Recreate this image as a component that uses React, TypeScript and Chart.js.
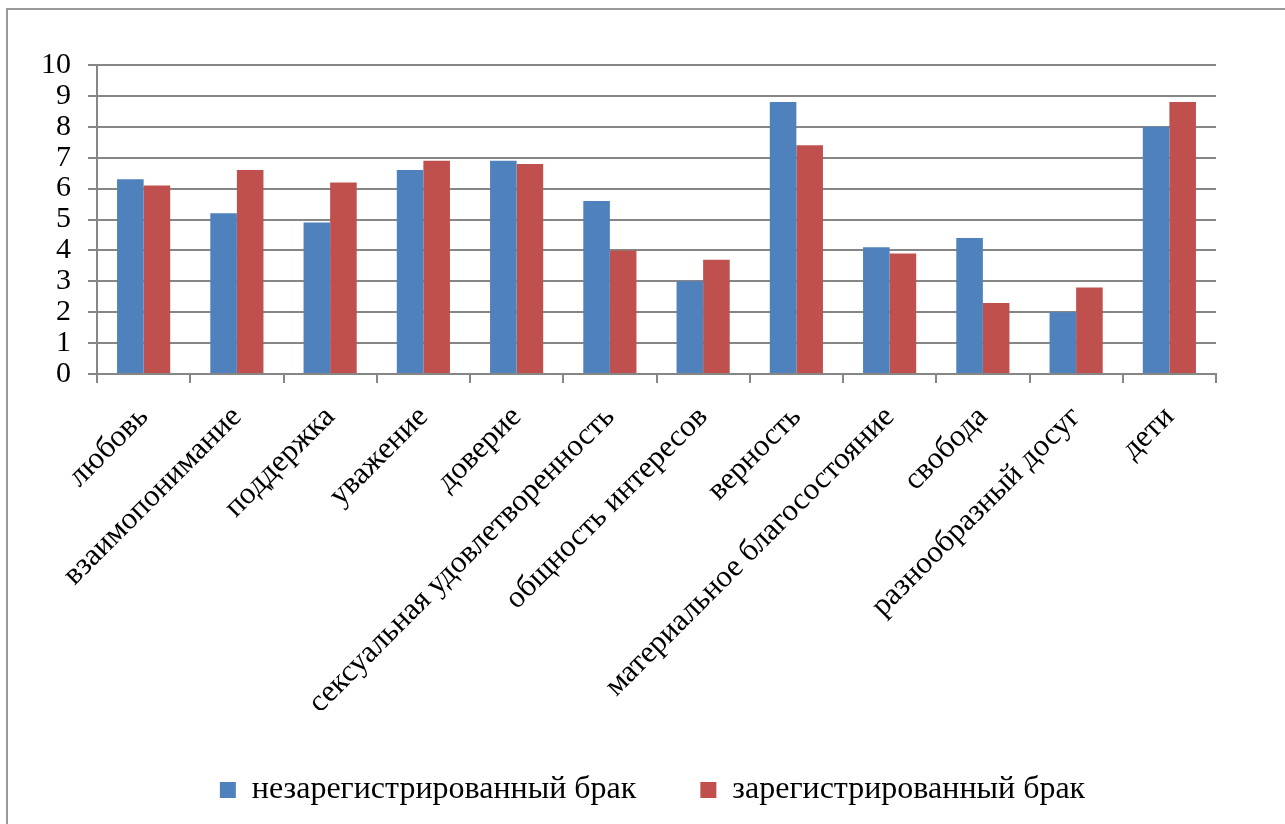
import React, { useEffect, useRef } from "react";
import { Chart, registerables } from "chart.js";

Chart.register(...registerables);

const categories = [
  "любовь",
  "взаимопонимание",
  "поддержка",
  "уважение",
  "доверие",
  "сексуальная удовлетворенность",
  "общность интересов",
  "верность",
  "материальное благосостояние",
  "свобода",
  "разнообразный досуг",
  "дети",
];
const unregistered = [6.3, 5.2, 4.9, 6.6, 6.9, 5.6, 3.0, 8.8, 4.1, 4.4, 2.0, 8.0];
const registered = [6.1, 6.6, 6.2, 6.9, 6.8, 4.0, 3.7, 7.4, 3.9, 2.3, 2.8, 8.8];
const seriesNames = ["незарегистрированный брак", "зарегистрированный брак"];

const FONT = "'Liberation Serif', 'Times New Roman', serif";
const GRID = "#868686";

export default function App() {
  const ref = useRef<HTMLCanvasElement | null>(null);
  useEffect(() => {
    if (!ref.current) return;
    const chart = new Chart(ref.current, {
      type: "bar",
      data: {
        labels: categories,
        datasets: [
          { label: seriesNames[0], data: unregistered, backgroundColor: "#4F81BD" },
          { label: seriesNames[1], data: registered, backgroundColor: "#C0504D" },
        ],
      },
      options: {
        responsive: false,
        animation: false,
        devicePixelRatio: 1,
        layout: { padding: { top: 65, left: 20, right: 0, bottom: 8 } },
        datasets: { bar: { categoryPercentage: 0.57, barPercentage: 1 } },
        plugins: {
          tooltip: { enabled: false },
          legend: {
            position: "bottom",
            labels: {
              boxWidth: 16,
              boxHeight: 16,
              padding: 64,
              color: "#000",
              font: { family: FONT, size: 32 },
            },
          },
        },
        scales: {
          x: {
            afterFit: (s: any) => {
              s.height = 336;
            },
            grid: {
              offset: true,
              drawOnChartArea: false,
              drawTicks: true,
              tickLength: 9,
              color: GRID,
              lineWidth: 2,
            },
            border: { color: GRID, width: 2 },
            ticks: {
              color: "#000",
              font: { family: FONT, size: 31 },
              maxRotation: 45,
              minRotation: 45,
              autoSkip: false,
              padding: 16,
            },
          },
          y: {
            min: 0,
            max: 10,
            afterFit: (s: any) => {
              s.width = 77;
            },
            grid: { color: GRID, lineWidth: 2, tickLength: 9 },
            border: { color: GRID, width: 2 },
            ticks: {
              stepSize: 1,
              autoSkip: false,
              maxTicksLimit: 11,
              color: "#000",
              font: { family: FONT, size: 30 },
              padding: 17,
            },
          },
          yRight: {
            position: "right",
            min: 0,
            max: 10,
            afterFit: (s: any) => {
              s.width = 69;
            },
            grid: { display: false, drawOnChartArea: false },
            border: { display: false },
            ticks: { display: false },
          },
        },
      },
    });
    return () => chart.destroy();
  }, []);
  return (
    <div
      style={{
        position: "fixed",
        left: 0,
        top: 0,
        width: 1285,
        height: 824,
        overflow: "hidden",
        background: "#fff",
      }}
    >
      <div
        style={{
          position: "absolute",
          left: 6,
          top: 8,
          width: 1400,
          height: 1000,
          border: "2px solid #9a9a9a",
          boxSizing: "border-box",
        }}
      />
      <canvas
        ref={ref}
        width={1285}
        height={824}
        style={{ position: "absolute", left: 0, top: 0, width: 1285, height: 824 }}
      />
    </div>
  );
}
